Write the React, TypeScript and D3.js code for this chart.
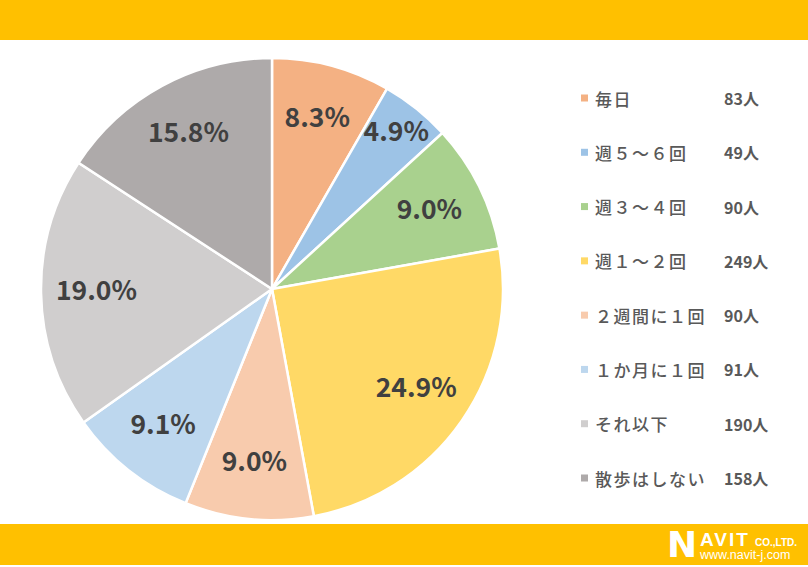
import { useMemo } from "react";
import * as d3 from "d3";

const WIDTH = 808;
const HEIGHT = 567;
const CENTER = { x: 272, y: 289 };
const RADIUS = 231;

const categories = [
  "毎日",
  "週５～６回",
  "週３～４回",
  "週１～２回",
  "２週間に１回",
  "１か月に１回",
  "それ以下",
  "散歩はしない",
];
const counts = [83, 49, 90, 249, 90, 91, 190, 158];
const percentLabels = ["8.3%", "4.9%", "9.0%", "24.9%", "9.0%", "9.1%", "19.0%", "15.8%"];
const colors = ["#F4B183", "#9DC3E6", "#A9D18E", "#FFD966", "#F8CBAD", "#BDD7EE", "#D0CECE", "#AEAAAA"];

const FONT = "'Noto Sans CJK JP', 'Noto Sans', sans-serif";

type Slice = { name: string; value: number; label: string; color: string };

export default function App() {
  const data: Slice[] = categories.map((name, i) => ({
    name,
    value: counts[i],
    label: percentLabels[i],
    color: colors[i],
  }));

  const arcs = useMemo(() => {
    const pie = d3
      .pie<Slice>()
      .value((d) => d.value)
      .sort(null);
    return pie(data);
  }, []);

  const arcGen = d3.arc<d3.PieArcDatum<Slice>>().innerRadius(0).outerRadius(RADIUS);

  // narrow slices get their label pushed outward, like Excel's best fit
  const labelPos = (a: d3.PieArcDatum<Slice>) => {
    const span = a.endAngle - a.startAngle;
    const r = RADIUS * (span < 0.35 ? 0.86 : 0.76);
    return d3.arc<d3.PieArcDatum<Slice>>().innerRadius(r).outerRadius(r).centroid(a);
  };

  // legend rows
  const legendY = d3.scalePoint<string>().domain(categories).range([98, 478]);

  return (
    <svg
      width={WIDTH}
      height={HEIGHT}
      style={{ position: "absolute", left: 0, top: 0, background: "#fff" }}
    >
      <rect x={0} y={0} width={WIDTH} height={40} fill="#FFC000" />
      <rect x={0} y={524} width={WIDTH} height={41} fill="#FFC000" />

      <g transform={`translate(${CENTER.x}, ${CENTER.y})`}>
        {arcs.map((a, i) => (
          <path key={i} d={arcGen(a) || ""} fill={a.data.color} stroke="#fff" strokeWidth={2.5} />
        ))}
        {arcs.map((a, i) => {
          const [x, y] = labelPos(a);
          return (
            <text
              key={i}
              x={x}
              y={y - 4}
              textAnchor="middle"
              dominantBaseline="central"
              fontFamily={FONT}
              fontWeight="bold"
              fontSize={26.5}
              fill="#404040"
            >
              {a.data.label}
            </text>
          );
        })}
      </g>

      <g fontFamily={FONT} fill="#595959">
        {data.map((d, i) => {
          const y = legendY(d.name) ?? 0;
          return (
            <g key={i}>
              <rect x={581} y={y - 3.5} width={7} height={7} fill={d.color} />
              <text
                x={595}
                y={y}
                dominantBaseline="central"
                fontSize={17}
                fontWeight={500}
                letterSpacing={1.5}
              >
                {d.name}
              </text>
              <text x={724} y={y} dominantBaseline="central" fontSize={16} fontWeight="bold">
                {d.value}人
              </text>
            </g>
          );
        })}
      </g>

      <g fill="#fff" fontFamily="Arial, 'Liberation Sans', sans-serif" fontWeight="bold">
        <text x={667} y={557} fontSize={36} fontFamily="'DejaVu Sans', sans-serif">
          N
        </text>
        <text x={700} y={546} fontSize={19} letterSpacing={2}>
          AVIT
        </text>
        <text x={755} y={546} fontSize={10}>
          CO.,LTD.
        </text>
        <text x={700} y={559} fontSize={12.5} fontWeight="normal">
          www.navit-j.com
        </text>
      </g>
    </svg>
  );
}
